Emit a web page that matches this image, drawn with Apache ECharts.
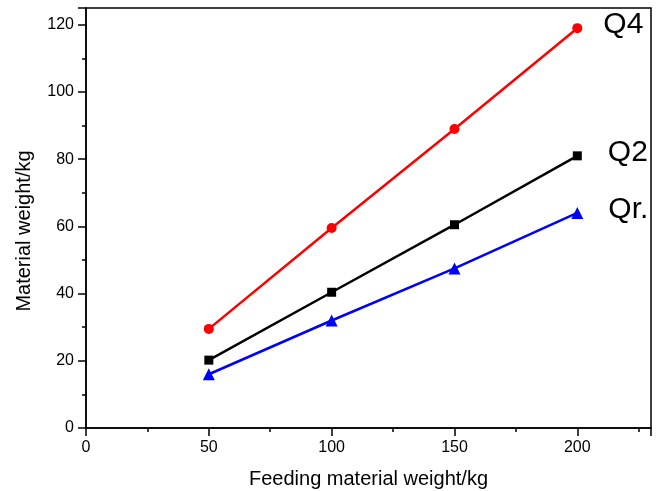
<!DOCTYPE html>
<html>
<head>
<meta charset="utf-8">
<script src="https://cdn.jsdelivr.net/npm/echarts@6/dist/echarts.min.js"></script>
<style>html,body{margin:0;padding:0;background:#fff;}#c{width:659px;height:491px;}</style>
</head>
<body>
<div id="c"></div>
<script>
var feed = [50, 100, 150, 200];
var q4 = [29.5, 59.5, 89, 119];
var q2 = [20.2, 40.4, 60.5, 81];
var qr = [16, 32, 47.5, 64];
var names = ['Q4', 'Q2', 'Qr.'];

function mk(vals, name, dist) {
  return feed.map(function (x, i) {
    var d = { value: [x, vals[i]] };
    if (i === feed.length - 1) {
      d.label = { show: true, position: 'right', distance: dist, offset: [0, -3], formatter: name,
        color: '#000', fontSize: 30, fontFamily: 'Liberation Sans' };
    }
    return d;
  });
}

var chart = echarts.init(document.getElementById('c'));
var font = 'Liberation Sans';
chart.setOption({
  animation: false,
  grid: { left: 86, right: 8, top: 8, bottom: 63, outerBoundsMode: 'none', containLabel: false,
    show: true, borderColor: '#000', borderWidth: 1.5 },
  xAxis: {
    type: 'value', min: 0, max: 230, interval: 50,
    name: 'Feeding material weight/kg', nameLocation: 'middle', nameGap: 41,
    nameTextStyle: { fontFamily: font, fontSize: 20, color: '#000' },
    axisLine: { lineStyle: { color: '#000', width: 1.5 } },
    axisTick: { length: 8, lineStyle: { color: '#000', width: 1.5 } },
    minorTick: { show: true, splitNumber: 2, length: 4, lineStyle: { color: '#000', width: 1.5 } },
    axisLabel: { showMaxLabel: false, fontFamily: font, fontSize: 16, color: '#000', margin: 12 },
    splitLine: { show: false }
  },
  yAxis: {
    type: 'value', min: 0, max: 125, interval: 20,
    name: 'Material weight/kg', nameLocation: 'middle', nameGap: 52,
    nameTextStyle: { fontFamily: font, fontSize: 20, color: '#000', padding: [0, 26, 0, 0] },
    axisLine: { lineStyle: { color: '#000', width: 1.5 } },
    axisTick: { length: 8, lineStyle: { color: '#000', width: 1.5 } },
    minorTick: { show: true, splitNumber: 2, length: 4, lineStyle: { color: '#000', width: 1.5 } },
    axisLabel: { showMaxLabel: false, fontFamily: font, fontSize: 16, color: '#000', margin: 12 },
    splitLine: { show: false }
  },
  series: [
    { name: names[0], type: 'line', data: mk(q4, names[0], 21), symbol: 'circle', symbolSize: 10,
      lineStyle: { color: '#ff0000', width: 2.5 }, itemStyle: { color: '#ff0000' } },
    { name: names[1], type: 'line', data: mk(q2, names[1], 26), symbol: 'rect', symbolSize: 9,
      lineStyle: { color: '#000', width: 2.5 }, itemStyle: { color: '#000' } },
    { name: names[2], type: 'line', data: mk(qr, names[2], 25), symbol: 'triangle', symbolSize: 12,
      lineStyle: { color: '#0000ff', width: 2.5 }, itemStyle: { color: '#0000ff' } }
  ]
});
</script>
</body>
</html>
